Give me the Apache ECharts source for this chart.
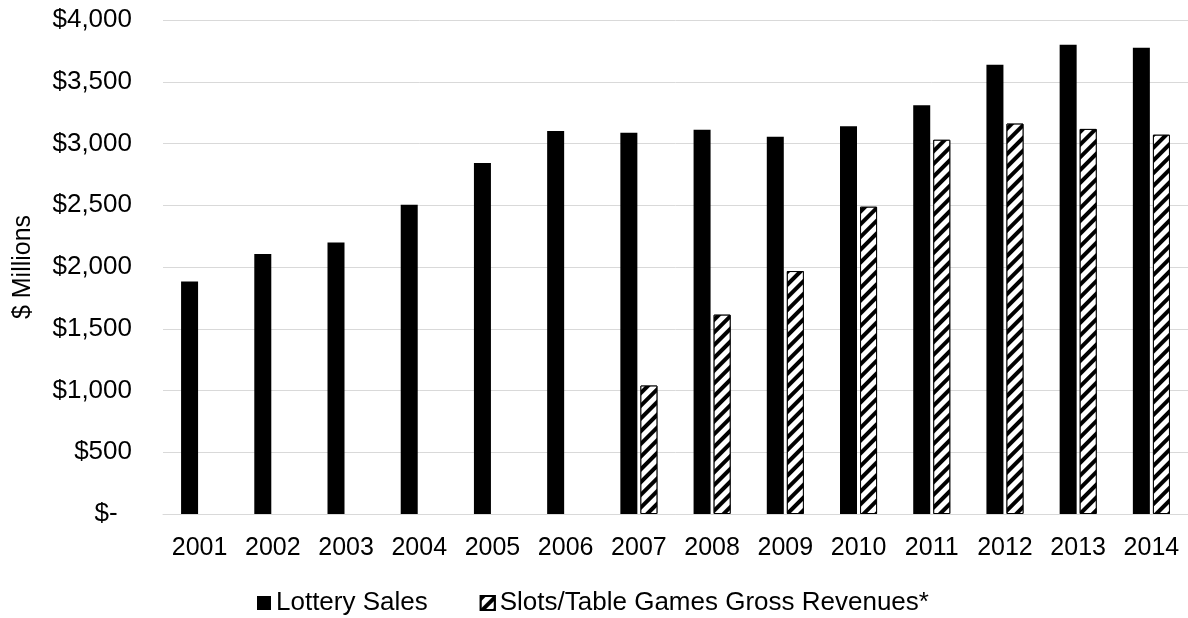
<!DOCTYPE html>
<html>
<head>
<meta charset="utf-8">
<script src="https://cdn.jsdelivr.net/npm/echarts@6/dist/echarts.min.js"></script>
<style>
  html, body { margin: 0; padding: 0; background: #fff; }
  #chart { width: 1188px; height: 618px; }
</style>
</head>
<body>
<div id="chart"></div>
<script>
// values, $ millions
const years = ['2001', '2002', '2003', '2004', '2005', '2006', '2007', '2008', '2009', '2010', '2011', '2012', '2013', '2014']
const lotterySales = [1883, 2105, 2199, 2504, 2842, 3101, 3087, 3112, 3055, 3140, 3310, 3638, 3800, 3776]
const slotsRevenues = [null, null, null, null, null, null, 1040, 1614, 1967, 2488, 3030, 3161, 3118, 3071]
const seriesNames = ['Lottery Sales', 'Slots/Table Games Gross Revenues*']

const FONT = '"Liberation Sans", Arial, sans-serif'

function money (v) {
  if (v === 0) {
    return '$-  '
  }
  return '$' + v.toLocaleString('en-US')
}

const chart = echarts.init(document.getElementById('chart'))

const option = {
  animation: false,
  backgroundColor: '#fff',
  textStyle: {
    fontFamily: FONT,
    color: '#000'
  },
  grid: {
    left: 163,
    right: 0,
    top: 20,
    bottom: 104
  },
  legend: {
    left: 252,
    top: 585,
    icon: 'rect',
    itemWidth: 14,
    itemHeight: 14,
    itemGap: 52,
    textStyle: {
      fontFamily: FONT,
      fontSize: 26,
      color: '#000'
    },
    data: seriesNames
  },
  xAxis: {
    type: 'category',
    data: years,
    axisLine: {
      lineStyle: { color: '#d9d9d9', width: 1 }
    },
    axisTick: { show: false },
    axisLabel: {
      margin: 22,
      fontSize: 25,
      fontFamily: FONT,
      color: '#000'
    }
  },
  yAxis: {
    type: 'value',
    min: 0,
    max: 4000,
    interval: 500,
    name: '$ Millions',
    nameLocation: 'middle',
    nameRotate: 90,
    nameGap: 127,
    nameTextStyle: {
      fontSize: 25,
      fontFamily: FONT,
      color: '#000'
    },
    axisLine: { show: false },
    axisTick: { show: false },
    splitLine: {
      lineStyle: { color: '#d9d9d9', width: 1 }
    },
    axisLabel: {
      margin: 31,
      fontSize: 26,
      fontFamily: FONT,
      color: '#000',
      formatter: money
    }
  },
  series: [
    {
      name: seriesNames[0],
      type: 'bar',
      barWidth: 17,
      barGap: '18%',
      itemStyle: { color: '#000' },
      data: lotterySales
    },
    {
      name: seriesNames[1],
      type: 'bar',
      barWidth: 17,
      barGap: '18%',
      itemStyle: {
        color: '#fff',
        borderColor: '#000',
        borderWidth: 1,
        decal: {
          symbol: 'rect',
          color: '#000',
          backgroundColor: '#fff',
          dashArrayX: [1, 0],
          dashArrayY: [3.5, 4.5],
          rotation: -Math.PI / 4
        }
      },
      data: slotsRevenues
    }
  ]
}

chart.setOption(option)
</script>
</body>
</html>
